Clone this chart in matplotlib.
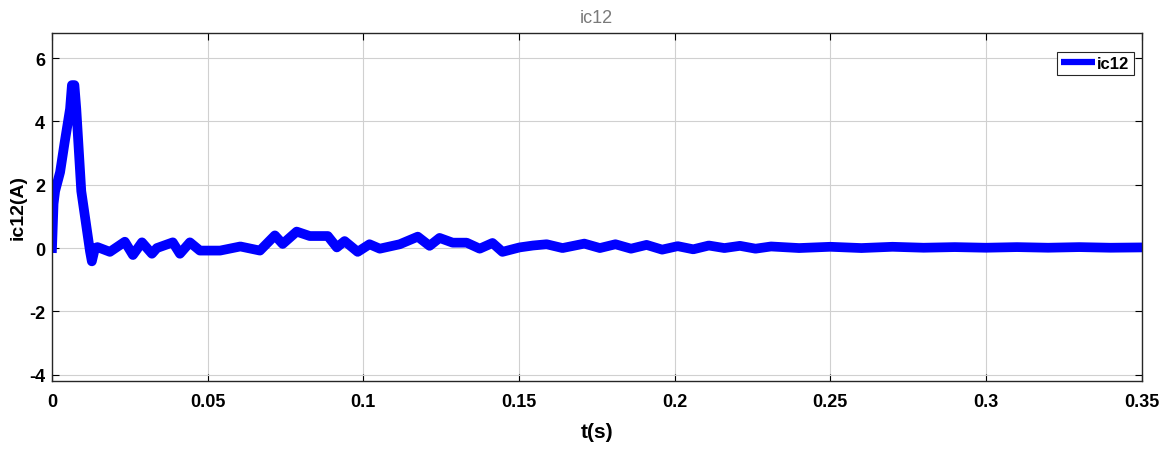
import matplotlib.pyplot as plt

# ic12 waveform, points
t = [0.0, 0.0005, 0.001, 0.0026, 0.004, 0.0058, 0.0064, 0.0072, 0.0078, 0.0094,
     0.0122, 0.0128, 0.0138, 0.0146, 0.0186, 0.0234, 0.026, 0.0289, 0.0321, 0.0337,
     0.0388, 0.0411, 0.0443, 0.0475, 0.054, 0.0605, 0.0668, 0.0716, 0.0741, 0.0786,
     0.0828, 0.0886, 0.0915, 0.094, 0.0982, 0.102, 0.1053, 0.1117, 0.1175, 0.1213,
     0.1245, 0.1287, 0.1332, 0.1374, 0.1415, 0.1447, 0.1502, 0.1545, 0.1589, 0.164,
     0.171, 0.176, 0.181, 0.186, 0.191, 0.196, 0.201, 0.206, 0.211, 0.216,
     0.221, 0.226, 0.231, 0.24, 0.25, 0.26, 0.27, 0.28, 0.29, 0.30,
     0.31, 0.32, 0.33, 0.34, 0.35]
ic12 = [0.0, 1.4, 1.8, 2.4, 3.3, 4.4, 5.15, 5.15, 4.4, 1.8,
        -0.1, -0.42, 0.0, 0.03, -0.12, 0.2, -0.22, 0.18, -0.18, 0.0,
        0.18, -0.18, 0.18, -0.08, -0.08, 0.05, -0.08, 0.4, 0.13, 0.52,
        0.38, 0.38, 0.02, 0.22, -0.12, 0.12, -0.02, 0.12, 0.36, 0.07,
        0.32, 0.17, 0.17, -0.02, 0.16, -0.12, 0.02, 0.08, 0.12, 0.0,
        0.14, 0.0, 0.12, -0.02, 0.1, -0.05, 0.06, -0.04, 0.08, 0.0,
        0.07, -0.02, 0.05, 0.0, 0.04, 0.0, 0.04, 0.01, 0.03, 0.01,
        0.03, 0.01, 0.03, 0.01, 0.02]

xticks = [0, 0.05, 0.1, 0.15, 0.2, 0.25, 0.3, 0.35]
xticklabels = ['0', '0.05', '0.1', '0.15', '0.2', '0.25', '0.3', '0.35']
yticks = [-4, -2, 0, 2, 4, 6]

plt.rcParams['font.family'] = ['Liberation Sans', 'DejaVu Sans']
plt.rcParams['axes.unicode_minus'] = False

fig = plt.figure(figsize=(11.66, 4.52), dpi=100)
ax = fig.add_axes([0.0446, 0.155, 0.9344, 0.77])

ax.plot(t, ic12, color='#0000ff', linewidth=7, label='ic12')

ax.set_xlim(0, 0.35)
ax.set_ylim(-4.2, 6.8)
ax.set_xticks(xticks)
ax.set_xticklabels(xticklabels)
ax.set_yticks(yticks)
ax.grid(True, color='#d0d0d0', linewidth=0.8)
ax.tick_params(direction='in', length=5, width=0.8, top=True, right=True,
               labelsize=13)
ax.tick_params(axis='x', pad=9)
ax.tick_params(axis='y', pad=5)
for lab in ax.get_xticklabels() + ax.get_yticklabels():
    lab.set_fontweight('bold')
for sp in ax.spines.values():
    sp.set_linewidth(1.0)
    sp.set_color('#262626')

ax.set_title('ic12', fontsize=13, color='#7a7a7a', pad=8)
ax.set_xlabel('t(s)', fontsize=15, fontweight='bold', labelpad=8)
ax.set_ylabel('ic12(A)', fontsize=14, fontweight='bold')
ax.yaxis.set_label_coords(-0.023, 0.5)

leg = ax.legend(loc='upper right', fontsize=12, handlelength=2.0, borderpad=0.25,
                handletextpad=0.15, borderaxespad=0, fancybox=False, framealpha=1,
                bbox_to_anchor=(0.9927, 0.945))
leg.get_frame().set_edgecolor('#262626')
leg.get_frame().set_linewidth(0.8)
for h in leg.get_lines():
    h.set_linewidth(4.5)
    h.set_solid_capstyle('butt')
for txt in leg.get_texts():
    txt.set_fontweight('bold')

fig.savefig('out.png', dpi=100)
